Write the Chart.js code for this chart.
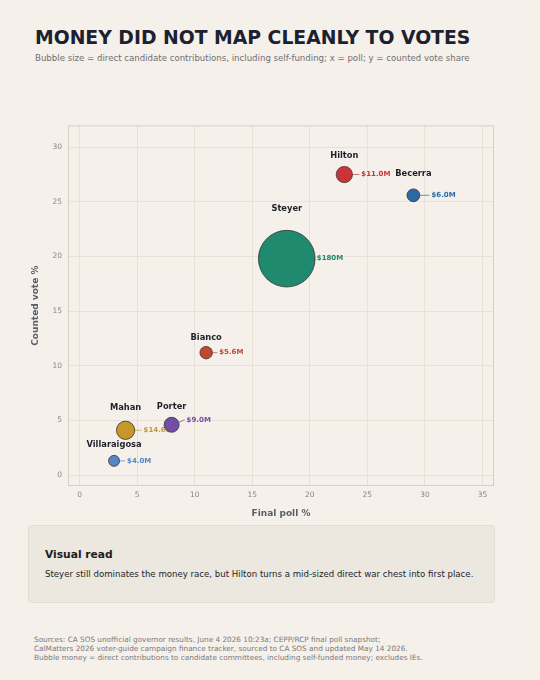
<!DOCTYPE html>
<html>
<head>
<meta charset="utf-8">
<script src="https://cdn.jsdelivr.net/npm/chart.js@4.4.1/dist/chart.umd.min.js"></script>
<style>
  html, body { margin: 0; padding: 0; }
  body {
    width: 540px; height: 680px; position: relative; overflow: hidden;
    background: #f5f0ea; font-family: "DejaVu Sans", sans-serif;
  }
  .abs { position: absolute; white-space: nowrap; line-height: 1; }
  #title { left: 35px; top: 29px; font-size: 18.8px; font-weight: bold; color: #1b2130; }
  #subtitle { left: 35px; top: 54px; font-size: 8.6px; color: #6f6f72; }
  /* bubble overflow forces ~30px of top padding, so the canvas starts higher */
  #wrap { position: absolute; left: 0; top: 96px; width: 540px; height: 434px; }
  #box {
    position: absolute; left: 28px; top: 525px; width: 467px; height: 78px;
    background: #ece8df; border: 1px solid #e2ddd2; border-radius: 3px; box-sizing: border-box;
  }
  #boxhead { left: 45px; top: 550px; font-size: 10.7px; font-weight: bold; color: #1b1d22; }
  #boxbody { left: 45px; top: 570px; font-size: 8.6px; color: #23252b; }
  #sources { left: 34px; top: 635px; font-size: 7.3px; color: #7a7a7e; line-height: 9.2px; white-space: pre; }
</style>
</head>
<body>
<div class="abs" id="title">MONEY DID NOT MAP CLEANLY TO VOTES</div>
<div class="abs" id="subtitle">Bubble size = direct candidate contributions, including self-funding; x = poll; y = counted vote share</div>
<div id="wrap"><canvas id="chart"></canvas></div>
<div id="box"></div>
<div class="abs" id="boxhead">Visual read</div>
<div class="abs" id="boxbody">Steyer still dominates the money race, but Hilton turns a mid-sized direct war chest into first place.</div>
<div class="abs" id="sources">Sources: CA SOS unofficial governor results, June 4 2026 10:23a; CEPP/RCP final poll snapshot;
CalMatters 2026 voter-guide campaign finance tracker, sourced to CA SOS and updated May 14 2026.
Bubble money = direct contributions to candidate committees, including self-funded money; excludes IEs.</div>

<script>
// data
const candidates = ["Hilton", "Becerra", "Steyer", "Bianco", "Porter", "Mahan", "Villaraigosa"];
const finalPoll = [23, 29, 18, 11, 8, 4, 3];
const countedVote = [27.5, 25.6, 19.8, 11.2, 4.6, 4.1, 1.3];
const moneyMillions = [11.0, 6.0, 180, 5.6, 9.0, 14.6, 4.0];
const xTicks = [0, 5, 10, 15, 20, 25, 30, 35];
const yTicks = [0, 5, 10, 15, 20, 25, 30];

// styling
const bubbleColors = ["#cc3338", "#2d68a6", "#1f8a6d", "#c24731", "#744ea5", "#c8972c", "#5786c4"];
const nameLift = [19, 21, 50, 15, 18, 22, 16];   // px above bubble centre
const moneyGap = [17, 18, 30, 13, 15, 18, 13];   // px right of bubble centre
const moneyLift = [0, 0, 0, 0, 5, 0, 0];

const bubbleRadius = m => 1.5 + 2 * Math.sqrt(m);
const moneyText = m => m >= 100 ? "$" + m.toFixed(0) + "M" : "$" + m.toFixed(1) + "M";

const gridColor = "#e7e1d9";
const frameColor = "#d5cfc6";
const tickColor = "#85858a";
const axisTitleColor = "#5a5e69";
const FONT = "'DejaVu Sans', sans-serif";

const points = candidates.map((c, i) => ({
  x: finalPoll[i], y: countedVote[i], r: bubbleRadius(moneyMillions[i])
}));

// frame on all four sides, then labels underneath the bubbles
const frameAndLabels = {
  id: "frameAndLabels",
  beforeDatasetsDraw(chart) {
    const {ctx, chartArea: a} = chart;
    ctx.save();
    ctx.strokeStyle = frameColor;
    ctx.lineWidth = 1;
    ctx.strokeRect(a.left + 0.5, a.top + 0.5, a.right - a.left - 1, a.bottom - a.top - 1);

    const meta = chart.getDatasetMeta(0);
    meta.data.forEach((el, i) => {
      const r = points[i].r;
      const cx = el.x, cy = el.y;
      ctx.font = "bold 8.3px " + FONT;
      ctx.fillStyle = "#1d2029";
      ctx.textAlign = "center";
      ctx.textBaseline = "middle";
      ctx.fillText(candidates[i], cx, cy - nameLift[i]);

      const lx = cx + moneyGap[i], ly = cy - moneyLift[i];
      const ang = Math.atan2(ly - cy, lx - cx);
      const sx = cx + r * Math.cos(ang), sy = cy + r * Math.sin(ang);
      if (lx - 2 > sx + 1) {
        ctx.strokeStyle = bubbleColors[i];
        ctx.globalAlpha = 0.7;
        ctx.lineWidth = 1;
        ctx.beginPath();
        ctx.moveTo(sx, sy);
        ctx.lineTo(lx - 2, ly);
        ctx.stroke();
        ctx.globalAlpha = 1;
      }
      ctx.font = "bold 7px " + FONT;
      ctx.fillStyle = bubbleColors[i];
      ctx.textAlign = "left";
      ctx.fillText(moneyText(moneyMillions[i]), lx, ly);
    });
    ctx.restore();
  }
};

new Chart(document.getElementById("chart"), {
  type: "bubble",
  data: {
    datasets: [{
      data: points,
      backgroundColor: bubbleColors,
      borderColor: "rgba(45,45,45,0.75)",
      borderWidth: 1,
      hoverRadius: 0,
      hoverBorderWidth: 1
    }]
  },
  options: {
    responsive: true,
    maintainAspectRatio: false,
    animation: false,
    events: [],
    layout: { padding: { left: 30, right: 46, top: 0, bottom: 11 } },
    plugins: { legend: { display: false }, tooltip: { enabled: false } },
    scales: {
      x: {
        type: "linear", min: -1, max: 36,
        border: { display: false },
        grid: { color: gridColor, drawTicks: false },
        afterBuildTicks: s => { s.ticks = xTicks.map(v => ({value: v})); },
        afterFit: s => { s.height = 33; s.paddingLeft = 0; s.paddingRight = 0; },
        ticks: { color: tickColor, font: { family: FONT, size: 7.5 }, padding: 5, includeBounds: false },
        title: { display: true, text: "Final poll %", color: axisTitleColor, padding: 0,
                 font: { family: FONT, size: 9, weight: "bold" } }
      },
      y: {
        type: "linear", min: -1, max: 32,
        border: { display: false },
        grid: { color: gridColor, drawTicks: false },
        afterBuildTicks: s => { s.ticks = yTicks.map(v => ({value: v})); },
        afterFit: s => { s.width = 38; s.paddingTop = 0; s.paddingBottom = 0; },
        ticks: { color: tickColor, font: { family: FONT, size: 7.5 }, padding: 6, includeBounds: false },
        title: { display: true, text: "Counted vote %", color: axisTitleColor, padding: 0,
                 font: { family: FONT, size: 9, weight: "bold" } }
      }
    }
  },
  plugins: [frameAndLabels]
});
</script>
</body>
</html>
